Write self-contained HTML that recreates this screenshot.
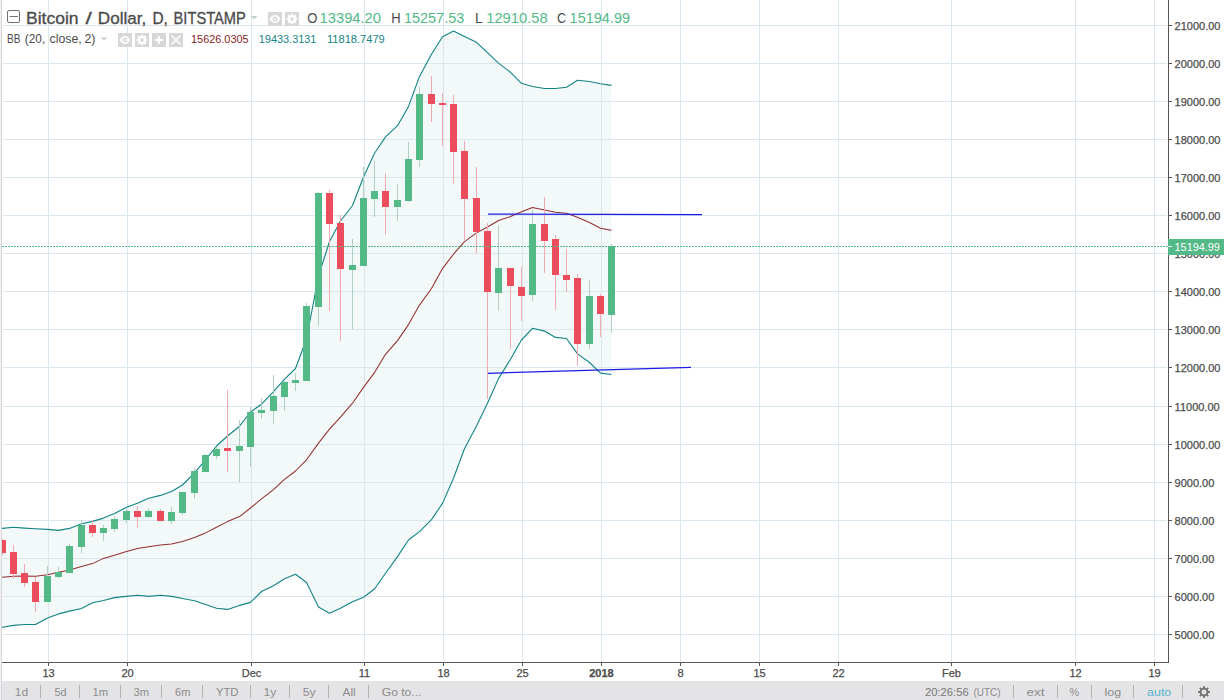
<!DOCTYPE html>
<html><head><meta charset="utf-8"><title>Bitcoin / Dollar</title>
<style>html,body{margin:0;padding:0;width:1224px;height:700px;overflow:hidden;background:#fff;font-family:"Liberation Sans", sans-serif;}</style>
</head><body>
<svg width="1224" height="700" viewBox="0 0 1224 700" style="position:absolute;left:0;top:0">
<defs><clipPath id="pane"><rect x="2" y="0" width="1166" height="662"/></clipPath></defs>
<rect x="0" y="0" width="1224" height="700" fill="#fff"/>
<g clip-path="url(#pane)">
<polygon points="-9.5,528.8 2.5,528.4 13.5,527.3 24.5,528.1 35.5,528.7 47.5,529.4 58.5,530.4 69.5,528.4 81.5,523.8 92.5,521.4 103.5,518.1 114.5,513.5 126.5,507.3 137.5,503.2 148.5,498.2 160.5,495.4 171.5,491.5 182.5,485.0 194.5,472.9 205.5,459.8 216.5,446.0 227.5,436.0 239.5,426.2 250.5,412.0 261.5,404.2 273.5,391.7 284.5,379.1 295.5,368.5 306.5,339.0 318.5,276.0 329.5,241.5 340.5,221.0 352.5,205.5 363.5,177.0 374.5,153.2 385.5,136.9 397.5,125.7 408.5,106.4 419.5,76.4 431.5,54.3 442.5,36.8 453.5,31.1 464.5,36.4 476.5,42.3 487.5,52.7 498.5,63.1 510.5,72.3 521.5,83.3 532.5,86.5 544.5,88.5 555.5,88.5 566.5,87.2 577.5,80.2 589.5,81.5 600.5,83.7 611.5,85.4 611.5,374.5 600.5,373.1 589.5,362.5 577.5,353.9 566.5,338.5 555.5,337.4 544.5,331.1 532.5,328.3 521.5,340.0 510.5,359.3 498.5,378.6 487.5,403.2 476.5,426.0 464.5,448.7 453.5,478.3 442.5,503.4 431.5,519.6 419.5,531.6 408.5,540.0 397.5,556.6 385.5,573.2 374.5,589.0 363.5,597.2 352.5,601.8 340.5,608.3 329.5,613.2 318.5,607.0 306.5,582.5 295.5,574.3 284.5,578.7 273.5,585.8 261.5,591.5 250.5,602.4 239.5,605.4 227.5,609.4 216.5,608.3 205.5,604.5 194.5,600.8 182.5,598.5 171.5,596.4 160.5,595.3 148.5,596.4 137.5,595.3 126.5,596.4 114.5,597.6 103.5,600.5 92.5,602.8 81.5,608.5 69.5,611.1 58.5,613.9 47.5,618.0 35.5,624.5 24.5,624.5 13.5,625.4 2.5,627.3 -9.5,628.5" fill="#f3f8f9"/>
<rect x="3" y="25" width="1164" height="1" fill="#dbe7ee"/><rect x="3" y="63" width="1164" height="1" fill="#dbe7ee"/><rect x="3" y="101" width="1164" height="1" fill="#dbe7ee"/><rect x="3" y="139" width="1164" height="1" fill="#dbe7ee"/><rect x="3" y="177" width="1164" height="1" fill="#dbe7ee"/><rect x="3" y="215" width="1164" height="1" fill="#dbe7ee"/><rect x="3" y="253" width="1164" height="1" fill="#dbe7ee"/><rect x="3" y="291" width="1164" height="1" fill="#dbe7ee"/><rect x="3" y="329" width="1164" height="1" fill="#dbe7ee"/><rect x="3" y="367" width="1164" height="1" fill="#dbe7ee"/><rect x="3" y="406" width="1164" height="1" fill="#dbe7ee"/><rect x="3" y="444" width="1164" height="1" fill="#dbe7ee"/><rect x="3" y="482" width="1164" height="1" fill="#dbe7ee"/><rect x="3" y="520" width="1164" height="1" fill="#dbe7ee"/><rect x="3" y="558" width="1164" height="1" fill="#dbe7ee"/><rect x="3" y="596" width="1164" height="1" fill="#dbe7ee"/><rect x="3" y="634" width="1164" height="1" fill="#dbe7ee"/><rect x="48" y="0" width="1" height="662" fill="#dbe7ee"/><rect x="127" y="0" width="1" height="662" fill="#dbe7ee"/><rect x="251" y="0" width="1" height="662" fill="#dbe7ee"/><rect x="364" y="0" width="1" height="662" fill="#dbe7ee"/><rect x="443" y="0" width="1" height="662" fill="#dbe7ee"/><rect x="522" y="0" width="1" height="662" fill="#dbe7ee"/><rect x="601" y="0" width="1" height="662" fill="#dbe7ee"/><rect x="680" y="0" width="1" height="662" fill="#dbe7ee"/><rect x="759" y="0" width="1" height="662" fill="#dbe7ee"/><rect x="838" y="0" width="1" height="662" fill="#dbe7ee"/><rect x="951" y="0" width="1" height="662" fill="#dbe7ee"/><rect x="1075" y="0" width="1" height="662" fill="#dbe7ee"/><rect x="1154" y="0" width="1" height="662" fill="#dbe7ee"/>
<polyline points="-9.5,528.8 2.5,528.4 13.5,527.3 24.5,528.1 35.5,528.7 47.5,529.4 58.5,530.4 69.5,528.4 81.5,523.8 92.5,521.4 103.5,518.1 114.5,513.5 126.5,507.3 137.5,503.2 148.5,498.2 160.5,495.4 171.5,491.5 182.5,485.0 194.5,472.9 205.5,459.8 216.5,446.0 227.5,436.0 239.5,426.2 250.5,412.0 261.5,404.2 273.5,391.7 284.5,379.1 295.5,368.5 306.5,339.0 318.5,276.0 329.5,241.5 340.5,221.0 352.5,205.5 363.5,177.0 374.5,153.2 385.5,136.9 397.5,125.7 408.5,106.4 419.5,76.4 431.5,54.3 442.5,36.8 453.5,31.1 464.5,36.4 476.5,42.3 487.5,52.7 498.5,63.1 510.5,72.3 521.5,83.3 532.5,86.5 544.5,88.5 555.5,88.5 566.5,87.2 577.5,80.2 589.5,81.5 600.5,83.7 611.5,85.4" fill="none" stroke="#138484" stroke-width="1.1" stroke-linejoin="round"/>
<polyline points="-9.5,628.5 2.5,627.3 13.5,625.4 24.5,624.5 35.5,624.5 47.5,618.0 58.5,613.9 69.5,611.1 81.5,608.5 92.5,602.8 103.5,600.5 114.5,597.6 126.5,596.4 137.5,595.3 148.5,596.4 160.5,595.3 171.5,596.4 182.5,598.5 194.5,600.8 205.5,604.5 216.5,608.3 227.5,609.4 239.5,605.4 250.5,602.4 261.5,591.5 273.5,585.8 284.5,578.7 295.5,574.3 306.5,582.5 318.5,607.0 329.5,613.2 340.5,608.3 352.5,601.8 363.5,597.2 374.5,589.0 385.5,573.2 397.5,556.6 408.5,540.0 419.5,531.6 431.5,519.6 442.5,503.4 453.5,478.3 464.5,448.7 476.5,426.0 487.5,403.2 498.5,378.6 510.5,359.3 521.5,340.0 532.5,328.3 544.5,331.1 555.5,337.4 566.5,338.5 577.5,353.9 589.5,362.5 600.5,373.1 611.5,374.5" fill="none" stroke="#138484" stroke-width="1.1" stroke-linejoin="round"/>
<polyline points="-9.5,577.6 2.5,577.2 13.5,576.3 24.5,576.0 35.5,576.3 47.5,574.7 58.5,572.3 69.5,570.1 81.5,566.5 92.5,563.6 103.5,558.4 114.5,555.2 126.5,551.6 137.5,548.6 148.5,546.7 160.5,545.1 171.5,544.1 182.5,541.4 194.5,537.5 205.5,532.9 216.5,527.3 227.5,521.6 239.5,516.6 250.5,508.0 261.5,498.8 273.5,489.6 284.5,479.3 295.5,471.0 306.5,459.8 318.5,443.1 329.5,429.2 340.5,417.1 352.5,403.2 363.5,387.4 374.5,372.6 385.5,354.3 397.5,340.6 408.5,324.6 419.5,305.1 431.5,288.5 442.5,268.6 453.5,254.2 464.5,241.6 476.5,232.9 487.5,227.0 498.5,220.5 510.5,216.6 521.5,211.7 532.5,207.4 544.5,210.0 555.5,212.3 566.5,213.3 577.5,217.2 589.5,222.5 600.5,228.3 611.5,230.3" fill="none" stroke="#93302f" stroke-width="1.05" stroke-linejoin="round"/>
<g shape-rendering="crispEdges"><rect x="2" y="539" width="1" height="16" fill="#f5a9b1"/><rect x="-1" y="540" width="7" height="13" fill="#eb4d5c"/><rect x="13" y="545" width="1" height="34" fill="#f5a9b1"/><rect x="10" y="552" width="7" height="22" fill="#eb4d5c"/><rect x="24" y="564" width="1" height="23" fill="#f5a9b1"/><rect x="21" y="573" width="7" height="10" fill="#eb4d5c"/><rect x="35" y="577" width="1" height="35" fill="#f5a9b1"/><rect x="32" y="582" width="7" height="20" fill="#eb4d5c"/><rect x="47" y="566" width="1" height="36" fill="#b3cfc1"/><rect x="44" y="576" width="7" height="26" fill="#53b987"/><rect x="58" y="567" width="1" height="11" fill="#b3cfc1"/><rect x="55" y="572" width="7" height="5" fill="#53b987"/><rect x="69" y="544" width="1" height="29" fill="#b3cfc1"/><rect x="66" y="546" width="7" height="27" fill="#53b987"/><rect x="81" y="520" width="1" height="33" fill="#b3cfc1"/><rect x="78" y="525" width="7" height="22" fill="#53b987"/><rect x="92" y="520" width="1" height="17" fill="#f5a9b1"/><rect x="89" y="525" width="7" height="8" fill="#eb4d5c"/><rect x="103" y="525" width="1" height="16" fill="#b3cfc1"/><rect x="100" y="528" width="7" height="5" fill="#53b987"/><rect x="114" y="516" width="1" height="16" fill="#b3cfc1"/><rect x="111" y="519" width="7" height="10" fill="#53b987"/><rect x="126" y="509" width="1" height="14" fill="#b3cfc1"/><rect x="123" y="511" width="7" height="9" fill="#53b987"/><rect x="137" y="506" width="1" height="22" fill="#f5a9b1"/><rect x="134" y="511" width="7" height="6" fill="#eb4d5c"/><rect x="148" y="508" width="1" height="10" fill="#b3cfc1"/><rect x="145" y="511" width="7" height="6" fill="#53b987"/><rect x="160" y="509" width="1" height="12" fill="#f5a9b1"/><rect x="157" y="511" width="7" height="10" fill="#eb4d5c"/><rect x="171" y="507" width="1" height="17" fill="#b3cfc1"/><rect x="168" y="512" width="7" height="9" fill="#53b987"/><rect x="182" y="492" width="1" height="23" fill="#b3cfc1"/><rect x="179" y="492" width="7" height="21" fill="#53b987"/><rect x="194" y="468" width="1" height="31" fill="#b3cfc1"/><rect x="191" y="471" width="7" height="22" fill="#53b987"/><rect x="205" y="454" width="1" height="18" fill="#b3cfc1"/><rect x="202" y="455" width="7" height="17" fill="#53b987"/><rect x="216" y="447" width="1" height="12" fill="#b3cfc1"/><rect x="213" y="449" width="7" height="7" fill="#53b987"/><rect x="227" y="390" width="1" height="82" fill="#f5a9b1"/><rect x="224" y="448" width="7" height="3" fill="#eb4d5c"/><rect x="239" y="420" width="1" height="62" fill="#b3cfc1"/><rect x="236" y="446" width="7" height="5" fill="#53b987"/><rect x="250" y="407" width="1" height="60" fill="#b3cfc1"/><rect x="247" y="412" width="7" height="35" fill="#53b987"/><rect x="261" y="398" width="1" height="21" fill="#b3cfc1"/><rect x="258" y="410" width="7" height="3" fill="#53b987"/><rect x="273" y="375" width="1" height="49" fill="#b3cfc1"/><rect x="270" y="396" width="7" height="15" fill="#53b987"/><rect x="284" y="381" width="1" height="30" fill="#b3cfc1"/><rect x="281" y="382" width="7" height="15" fill="#53b987"/><rect x="295" y="373" width="1" height="18" fill="#b3cfc1"/><rect x="292" y="380" width="7" height="3" fill="#53b987"/><rect x="306" y="303" width="1" height="78" fill="#b3cfc1"/><rect x="303" y="306" width="7" height="75" fill="#53b987"/><rect x="318" y="192" width="1" height="134" fill="#b3cfc1"/><rect x="315" y="193" width="7" height="114" fill="#53b987"/><rect x="329" y="190" width="1" height="121" fill="#f5a9b1"/><rect x="326" y="193" width="7" height="31" fill="#eb4d5c"/><rect x="340" y="215" width="1" height="126" fill="#f5a9b1"/><rect x="337" y="223" width="7" height="46" fill="#eb4d5c"/><rect x="352" y="239" width="1" height="90" fill="#b3cfc1"/><rect x="349" y="265" width="7" height="5" fill="#53b987"/><rect x="363" y="167" width="1" height="99" fill="#b3cfc1"/><rect x="360" y="198" width="7" height="68" fill="#53b987"/><rect x="374" y="161" width="1" height="56" fill="#b3cfc1"/><rect x="371" y="191" width="7" height="8" fill="#53b987"/><rect x="385" y="173" width="1" height="62" fill="#f5a9b1"/><rect x="382" y="191" width="7" height="16" fill="#eb4d5c"/><rect x="397" y="184" width="1" height="37" fill="#b3cfc1"/><rect x="394" y="200" width="7" height="7" fill="#53b987"/><rect x="408" y="142" width="1" height="60" fill="#b3cfc1"/><rect x="405" y="159" width="7" height="42" fill="#53b987"/><rect x="419" y="87" width="1" height="80" fill="#b3cfc1"/><rect x="416" y="94" width="7" height="66" fill="#53b987"/><rect x="431" y="76" width="1" height="46" fill="#f5a9b1"/><rect x="428" y="94" width="7" height="10" fill="#eb4d5c"/><rect x="442" y="93" width="1" height="53" fill="#f5a9b1"/><rect x="439" y="103" width="7" height="2" fill="#eb4d5c"/><rect x="453" y="95" width="1" height="89" fill="#f5a9b1"/><rect x="450" y="104" width="7" height="48" fill="#eb4d5c"/><rect x="464" y="141" width="1" height="99" fill="#f5a9b1"/><rect x="461" y="151" width="7" height="48" fill="#eb4d5c"/><rect x="476" y="167" width="1" height="86" fill="#f5a9b1"/><rect x="473" y="198" width="7" height="34" fill="#eb4d5c"/><rect x="487" y="223" width="1" height="176" fill="#f5a9b1"/><rect x="484" y="231" width="7" height="61" fill="#eb4d5c"/><rect x="498" y="225" width="1" height="86" fill="#b3cfc1"/><rect x="495" y="268" width="7" height="25" fill="#53b987"/><rect x="510" y="268" width="1" height="81" fill="#f5a9b1"/><rect x="507" y="268" width="7" height="18" fill="#eb4d5c"/><rect x="521" y="267" width="1" height="54" fill="#f5a9b1"/><rect x="518" y="287" width="7" height="9" fill="#eb4d5c"/><rect x="532" y="210" width="1" height="91" fill="#b3cfc1"/><rect x="529" y="224" width="7" height="71" fill="#53b987"/><rect x="544" y="197" width="1" height="76" fill="#f5a9b1"/><rect x="541" y="224" width="7" height="17" fill="#eb4d5c"/><rect x="555" y="235" width="1" height="75" fill="#f5a9b1"/><rect x="552" y="239" width="7" height="36" fill="#eb4d5c"/><rect x="566" y="249" width="1" height="43" fill="#f5a9b1"/><rect x="563" y="275" width="7" height="5" fill="#eb4d5c"/><rect x="577" y="274" width="1" height="92" fill="#f5a9b1"/><rect x="574" y="278" width="7" height="66" fill="#eb4d5c"/><rect x="589" y="280" width="1" height="69" fill="#b3cfc1"/><rect x="586" y="296" width="7" height="48" fill="#53b987"/><rect x="600" y="294" width="1" height="43" fill="#f5a9b1"/><rect x="597" y="296" width="7" height="18" fill="#eb4d5c"/><rect x="611" y="244" width="1" height="89" fill="#b3cfc1"/><rect x="608" y="246" width="7" height="69" fill="#53b987"/></g>
<line x1="488" y1="214.0" x2="702" y2="214.6" stroke="#1c1ce6" stroke-width="1.25"/>
<line x1="488" y1="373.3" x2="691" y2="367.4" stroke="#1c1ce6" stroke-width="1.25"/>
<line x1="2" y1="246.5" x2="1168" y2="246.5" stroke="#53b987" stroke-width="1" stroke-dasharray="2 1"/>
</g>
<rect x="0" y="0" width="1" height="700" fill="#f1f1f4"/><rect x="1" y="0" width="1" height="700" fill="#d6d6da"/>
<rect x="1168" y="0" width="1" height="663" fill="#555555"/>
<rect x="2" y="662" width="1167" height="1" fill="#555555"/>
<g font-family='"Liberation Sans", sans-serif'><rect x="1168" y="25" width="4" height="1" fill="#555555"/><text x="1174.6" y="29.5" font-size="11" fill="#4c4c4c" stroke="#4c4c4c" stroke-width="0.25">21000.00</text><rect x="1168" y="63" width="4" height="1" fill="#555555"/><text x="1174.6" y="67.5" font-size="11" fill="#4c4c4c" stroke="#4c4c4c" stroke-width="0.25">20000.00</text><rect x="1168" y="101" width="4" height="1" fill="#555555"/><text x="1174.6" y="105.5" font-size="11" fill="#4c4c4c" stroke="#4c4c4c" stroke-width="0.25">19000.00</text><rect x="1168" y="139" width="4" height="1" fill="#555555"/><text x="1174.6" y="143.5" font-size="11" fill="#4c4c4c" stroke="#4c4c4c" stroke-width="0.25">18000.00</text><rect x="1168" y="177" width="4" height="1" fill="#555555"/><text x="1174.6" y="181.5" font-size="11" fill="#4c4c4c" stroke="#4c4c4c" stroke-width="0.25">17000.00</text><rect x="1168" y="215" width="4" height="1" fill="#555555"/><text x="1174.6" y="219.5" font-size="11" fill="#4c4c4c" stroke="#4c4c4c" stroke-width="0.25">16000.00</text><rect x="1168" y="253" width="4" height="1" fill="#555555"/><text x="1174.6" y="257.5" font-size="11" fill="#4c4c4c" stroke="#4c4c4c" stroke-width="0.25">15000.00</text><rect x="1168" y="291" width="4" height="1" fill="#555555"/><text x="1174.6" y="295.5" font-size="11" fill="#4c4c4c" stroke="#4c4c4c" stroke-width="0.25">14000.00</text><rect x="1168" y="329" width="4" height="1" fill="#555555"/><text x="1174.6" y="333.5" font-size="11" fill="#4c4c4c" stroke="#4c4c4c" stroke-width="0.25">13000.00</text><rect x="1168" y="367" width="4" height="1" fill="#555555"/><text x="1174.6" y="371.5" font-size="11" fill="#4c4c4c" stroke="#4c4c4c" stroke-width="0.25">12000.00</text><rect x="1168" y="406" width="4" height="1" fill="#555555"/><text x="1174.6" y="410.5" font-size="11" fill="#4c4c4c" stroke="#4c4c4c" stroke-width="0.25">11000.00</text><rect x="1168" y="444" width="4" height="1" fill="#555555"/><text x="1174.6" y="448.5" font-size="11" fill="#4c4c4c" stroke="#4c4c4c" stroke-width="0.25">10000.00</text><rect x="1168" y="482" width="4" height="1" fill="#555555"/><text x="1174.6" y="486.5" font-size="11" fill="#4c4c4c" stroke="#4c4c4c" stroke-width="0.25">9000.00</text><rect x="1168" y="520" width="4" height="1" fill="#555555"/><text x="1174.6" y="524.5" font-size="11" fill="#4c4c4c" stroke="#4c4c4c" stroke-width="0.25">8000.00</text><rect x="1168" y="558" width="4" height="1" fill="#555555"/><text x="1174.6" y="562.5" font-size="11" fill="#4c4c4c" stroke="#4c4c4c" stroke-width="0.25">7000.00</text><rect x="1168" y="596" width="4" height="1" fill="#555555"/><text x="1174.6" y="600.5" font-size="11" fill="#4c4c4c" stroke="#4c4c4c" stroke-width="0.25">6000.00</text><rect x="1168" y="634" width="4" height="1" fill="#555555"/><text x="1174.6" y="638.5" font-size="11" fill="#4c4c4c" stroke="#4c4c4c" stroke-width="0.25">5000.00</text></g>
<rect x="1168" y="239" width="56" height="16" fill="#53b987"/>
<rect x="1168" y="246" width="4" height="1" fill="#fff"/>
<text x="1174.6" y="251" font-size="11" fill="#fff" font-family='"Liberation Sans", sans-serif' textLength="45.2" lengthAdjust="spacingAndGlyphs">15194.99</text>
<g font-family='"Liberation Sans", sans-serif'><rect x="48" y="663" width="1" height="3" fill="#555555"/><text x="48.5" y="677" font-size="11" fill="#4c4c4c" stroke="#4c4c4c" stroke-width="0.25" text-anchor="middle">13</text><rect x="127" y="663" width="1" height="3" fill="#555555"/><text x="127.5" y="677" font-size="11" fill="#4c4c4c" stroke="#4c4c4c" stroke-width="0.25" text-anchor="middle">20</text><rect x="251" y="663" width="1" height="3" fill="#555555"/><text x="251.5" y="677" font-size="11" fill="#4c4c4c" stroke="#4c4c4c" stroke-width="0.25" text-anchor="middle">Dec</text><rect x="364" y="663" width="1" height="3" fill="#555555"/><text x="364.5" y="677" font-size="11" fill="#4c4c4c" stroke="#4c4c4c" stroke-width="0.25" text-anchor="middle">11</text><rect x="443" y="663" width="1" height="3" fill="#555555"/><text x="443.5" y="677" font-size="11" fill="#4c4c4c" stroke="#4c4c4c" stroke-width="0.25" text-anchor="middle">18</text><rect x="522" y="663" width="1" height="3" fill="#555555"/><text x="522.5" y="677" font-size="11" fill="#4c4c4c" stroke="#4c4c4c" stroke-width="0.25" text-anchor="middle">25</text><rect x="601" y="663" width="1" height="3" fill="#555555"/><text x="601.5" y="677" font-size="11" fill="#4c4c4c" stroke="#4c4c4c" stroke-width="0.25" text-anchor="middle" font-weight="bold">2018</text><rect x="680" y="663" width="1" height="3" fill="#555555"/><text x="680.5" y="677" font-size="11" fill="#4c4c4c" stroke="#4c4c4c" stroke-width="0.25" text-anchor="middle">8</text><rect x="759" y="663" width="1" height="3" fill="#555555"/><text x="759.5" y="677" font-size="11" fill="#4c4c4c" stroke="#4c4c4c" stroke-width="0.25" text-anchor="middle">15</text><rect x="838" y="663" width="1" height="3" fill="#555555"/><text x="838.5" y="677" font-size="11" fill="#4c4c4c" stroke="#4c4c4c" stroke-width="0.25" text-anchor="middle">22</text><rect x="951" y="663" width="1" height="3" fill="#555555"/><text x="951.5" y="677" font-size="11" fill="#4c4c4c" stroke="#4c4c4c" stroke-width="0.25" text-anchor="middle">Feb</text><rect x="1075" y="663" width="1" height="3" fill="#555555"/><text x="1075.5" y="677" font-size="11" fill="#4c4c4c" stroke="#4c4c4c" stroke-width="0.25" text-anchor="middle">12</text><rect x="1154" y="663" width="1" height="3" fill="#555555"/><text x="1154.5" y="677" font-size="11" fill="#4c4c4c" stroke="#4c4c4c" stroke-width="0.25" text-anchor="middle">19</text></g>
<rect x="2" y="681" width="1222" height="19" fill="#e4e4e6"/>
<g font-family='"Liberation Sans", sans-serif'><text x="14.70" y="696" font-size="11" fill="#8c8c8c" textLength="13.43" lengthAdjust="spacingAndGlyphs">1d</text><text x="54.50" y="696" font-size="11" fill="#8c8c8c" textLength="12.08" lengthAdjust="spacingAndGlyphs">5d</text><text x="92.50" y="696" font-size="11" fill="#8c8c8c" textLength="15.64" lengthAdjust="spacingAndGlyphs">1m</text><text x="133.50" y="696" font-size="11" fill="#8c8c8c" textLength="15.58" lengthAdjust="spacingAndGlyphs">3m</text><text x="175.10" y="696" font-size="11" fill="#8c8c8c" textLength="15.30" lengthAdjust="spacingAndGlyphs">6m</text><text x="215.90" y="696" font-size="11" fill="#8c8c8c" textLength="22.59" lengthAdjust="spacingAndGlyphs">YTD</text><text x="263.50" y="696" font-size="11" fill="#8c8c8c" textLength="12.80" lengthAdjust="spacingAndGlyphs">1y</text><text x="302.70" y="696" font-size="11" fill="#8c8c8c" textLength="12.89" lengthAdjust="spacingAndGlyphs">5y</text><text x="342.50" y="696" font-size="11" fill="#8c8c8c" textLength="13.20" lengthAdjust="spacingAndGlyphs">All</text><text x="381.70" y="696" font-size="11" fill="#8c8c8c" textLength="39.80" lengthAdjust="spacingAndGlyphs">Go to...</text><text x="924.90" y="696" font-size="11" fill="#767676" textLength="43.79" lengthAdjust="spacingAndGlyphs">20:26:56</text><text x="973.50" y="696" font-size="11" fill="#8c8c8c" textLength="27.04" lengthAdjust="spacingAndGlyphs">(UTC)</text><text x="1026.50" y="696" font-size="11" fill="#8c8c8c" textLength="18.00" lengthAdjust="spacingAndGlyphs">ext</text><text x="1069.50" y="696" font-size="11" fill="#8c8c8c" textLength="9.60" lengthAdjust="spacingAndGlyphs">%</text><text x="1104.50" y="696" font-size="11" fill="#8c8c8c" textLength="16.64" lengthAdjust="spacingAndGlyphs">log</text><text x="1147.10" y="696" font-size="11" fill="#5ab4cf" textLength="24.19" lengthAdjust="spacingAndGlyphs">auto</text><rect x="40" y="685" width="1" height="13" fill="#b3b3b3"/><rect x="79" y="685" width="1" height="13" fill="#b3b3b3"/><rect x="120" y="685" width="1" height="13" fill="#b3b3b3"/><rect x="161" y="685" width="1" height="13" fill="#b3b3b3"/><rect x="202" y="685" width="1" height="13" fill="#b3b3b3"/><rect x="250" y="685" width="1" height="13" fill="#b3b3b3"/><rect x="289" y="685" width="1" height="13" fill="#b3b3b3"/><rect x="328" y="685" width="1" height="13" fill="#b3b3b3"/><rect x="368" y="685" width="1" height="13" fill="#b3b3b3"/><rect x="1013" y="685" width="1" height="13" fill="#b3b3b3"/><rect x="1057" y="685" width="1" height="13" fill="#b3b3b3"/><rect x="1091" y="685" width="1" height="13" fill="#b3b3b3"/><rect x="1133" y="685" width="1" height="13" fill="#b3b3b3"/><rect x="1182" y="685" width="1" height="13" fill="#b3b3b3"/></g>
<path d="M1203.12 687.79 L1203.03 686.18 L1204.97 686.18 L1204.88 687.79 L1206.35 688.40 L1207.43 687.20 L1208.80 688.57 L1207.60 689.65 L1208.21 691.12 L1209.82 691.03 L1209.82 692.97 L1208.21 692.88 L1207.60 694.35 L1208.80 695.43 L1207.43 696.80 L1206.35 695.60 L1204.88 696.21 L1204.97 697.82 L1203.03 697.82 L1203.12 696.21 L1201.65 695.60 L1200.57 696.80 L1199.20 695.43 L1200.40 694.35 L1199.79 692.88 L1198.18 692.97 L1198.18 691.03 L1199.79 691.12 L1200.40 689.65 L1199.20 688.57 L1200.57 687.20 L1201.65 688.40 Z M1206.5 692 A2.5 2.5 0 1 0 1201.5 692 A2.5 2.5 0 1 0 1206.5 692 Z" fill="#6e6e6e" fill-rule="evenodd"/>
<g font-family='"Liberation Sans", sans-serif'><rect x="7.5" y="10.5" width="12" height="12" rx="1.5" fill="#fff" stroke="#737373" stroke-width="1"/><rect x="9.5" y="16" width="8.5" height="1" fill="#737373"/><text x="26.00" y="23.7" font-size="16.3" fill="#4b4b4b" stroke="#4b4b4b" stroke-width="0.3" textLength="52.61" lengthAdjust="spacingAndGlyphs">Bitcoin</text><text x="85.60" y="23.7" font-size="16.3" fill="#4b4b4b" stroke="#4b4b4b" stroke-width="0.3" textLength="6.33" lengthAdjust="spacingAndGlyphs">/</text><text x="97.80" y="23.7" font-size="16.3" fill="#4b4b4b" stroke="#4b4b4b" stroke-width="0.3" textLength="48.43" lengthAdjust="spacingAndGlyphs">Dollar,</text><text x="152.40" y="23.7" font-size="16.3" fill="#4b4b4b" stroke="#4b4b4b" stroke-width="0.3" textLength="15.39" lengthAdjust="spacingAndGlyphs">D,</text><text x="173.60" y="23.7" font-size="16.3" fill="#4b4b4b" stroke="#4b4b4b" stroke-width="0.3" textLength="72.21" lengthAdjust="spacingAndGlyphs">BITSTAMP</text><path d="M250.5 16 L257.5 16 L254 19.5 Z" fill="#c2d2c9"/><rect x="268" y="12" width="14" height="14" fill="#d7d7da"/><path d="M269.7 19 C272 13.8 278 13.8 280.3 19 C278 24.2 272 24.2 269.7 19 Z" fill="#fff"/><circle cx="275" cy="19" r="2.4" fill="#d7d7da"/><circle cx="275" cy="19" r="1.0" fill="#fff"/><rect x="285" y="12" width="14" height="14" fill="#d7d7da"/><rect x="291" y="13.7" width="2" height="3" fill="#fff" transform="rotate(0 292 19)"/><rect x="291" y="13.7" width="2" height="3" fill="#fff" transform="rotate(45 292 19)"/><rect x="291" y="13.7" width="2" height="3" fill="#fff" transform="rotate(90 292 19)"/><rect x="291" y="13.7" width="2" height="3" fill="#fff" transform="rotate(135 292 19)"/><rect x="291" y="13.7" width="2" height="3" fill="#fff" transform="rotate(180 292 19)"/><rect x="291" y="13.7" width="2" height="3" fill="#fff" transform="rotate(225 292 19)"/><rect x="291" y="13.7" width="2" height="3" fill="#fff" transform="rotate(270 292 19)"/><rect x="291" y="13.7" width="2" height="3" fill="#fff" transform="rotate(315 292 19)"/><circle cx="292" cy="19" r="4" fill="#fff"/><circle cx="292" cy="19" r="1.8" fill="#d7d7da"/><path d="M100.5 37.5 L107.5 37.5 L104 40.5 Z" fill="#c2d2c9"/><rect x="118" y="33" width="14" height="14" fill="#d7d7da"/><path d="M119.7 40 C122 34.8 128 34.8 130.3 40 C128 45.2 122 45.2 119.7 40 Z" fill="#fff"/><circle cx="125" cy="40" r="2.4" fill="#d7d7da"/><circle cx="125" cy="40" r="1.0" fill="#fff"/><rect x="135" y="33" width="14" height="14" fill="#d7d7da"/><rect x="141" y="34.7" width="2" height="3" fill="#fff" transform="rotate(0 142 40)"/><rect x="141" y="34.7" width="2" height="3" fill="#fff" transform="rotate(45 142 40)"/><rect x="141" y="34.7" width="2" height="3" fill="#fff" transform="rotate(90 142 40)"/><rect x="141" y="34.7" width="2" height="3" fill="#fff" transform="rotate(135 142 40)"/><rect x="141" y="34.7" width="2" height="3" fill="#fff" transform="rotate(180 142 40)"/><rect x="141" y="34.7" width="2" height="3" fill="#fff" transform="rotate(225 142 40)"/><rect x="141" y="34.7" width="2" height="3" fill="#fff" transform="rotate(270 142 40)"/><rect x="141" y="34.7" width="2" height="3" fill="#fff" transform="rotate(315 142 40)"/><circle cx="142" cy="40" r="4" fill="#fff"/><circle cx="142" cy="40" r="1.8" fill="#d7d7da"/><rect x="152" y="33" width="14" height="14" fill="#d7d7da"/><rect x="155" y="39" width="8" height="2" fill="#fff"/><rect x="158" y="36" width="2" height="8" fill="#fff"/><rect x="169" y="33" width="14" height="14" fill="#d7d7da"/><path d="M171.5 35.5 L180.5 44.5 M180.5 35.5 L171.5 44.5" stroke="#fff" stroke-width="1.6"/><text x="307.20" y="22.5" font-size="15" fill="#4b4b4b" textLength="10.19" lengthAdjust="spacingAndGlyphs">O</text><text x="319.60" y="22.5" font-size="15" fill="#53b987" textLength="61.42" lengthAdjust="spacingAndGlyphs">13394.20</text><text x="391.20" y="22.5" font-size="15" fill="#4b4b4b" textLength="9.43" lengthAdjust="spacingAndGlyphs">H</text><text x="404.00" y="22.5" font-size="15" fill="#53b987" textLength="60.20" lengthAdjust="spacingAndGlyphs">15257.53</text><text x="475.00" y="22.5" font-size="15" fill="#4b4b4b" textLength="7.78" lengthAdjust="spacingAndGlyphs">L</text><text x="486.20" y="22.5" font-size="15" fill="#53b987" textLength="61.63" lengthAdjust="spacingAndGlyphs">12910.58</text><text x="557.00" y="22.5" font-size="15" fill="#4b4b4b" textLength="9.14" lengthAdjust="spacingAndGlyphs">C</text><text x="569.60" y="22.5" font-size="15" fill="#53b987" textLength="60.42" lengthAdjust="spacingAndGlyphs">15194.99</text><text x="7.00" y="42.8" font-size="12" fill="#4b4b4b" textLength="13.36" lengthAdjust="spacingAndGlyphs">BB</text><text x="24.80" y="42.8" font-size="12" fill="#4b4b4b" textLength="20.45" lengthAdjust="spacingAndGlyphs">(20,</text><text x="49.60" y="42.8" font-size="12" fill="#4b4b4b" textLength="32.20" lengthAdjust="spacingAndGlyphs">close,</text><text x="84.40" y="42.8" font-size="12" fill="#4b4b4b" textLength="11.00" lengthAdjust="spacingAndGlyphs">2)</text><text x="191.00" y="43.4" font-size="11.3" fill="#872323" textLength="57.60" lengthAdjust="spacingAndGlyphs">15626.0305</text><text x="258.80" y="43.4" font-size="11.3" fill="#138484" textLength="57.60" lengthAdjust="spacingAndGlyphs">19433.3131</text><text x="327.00" y="43.4" font-size="11.3" fill="#138484" textLength="57.80" lengthAdjust="spacingAndGlyphs">11818.7479</text></g>
</svg>
</body></html>
